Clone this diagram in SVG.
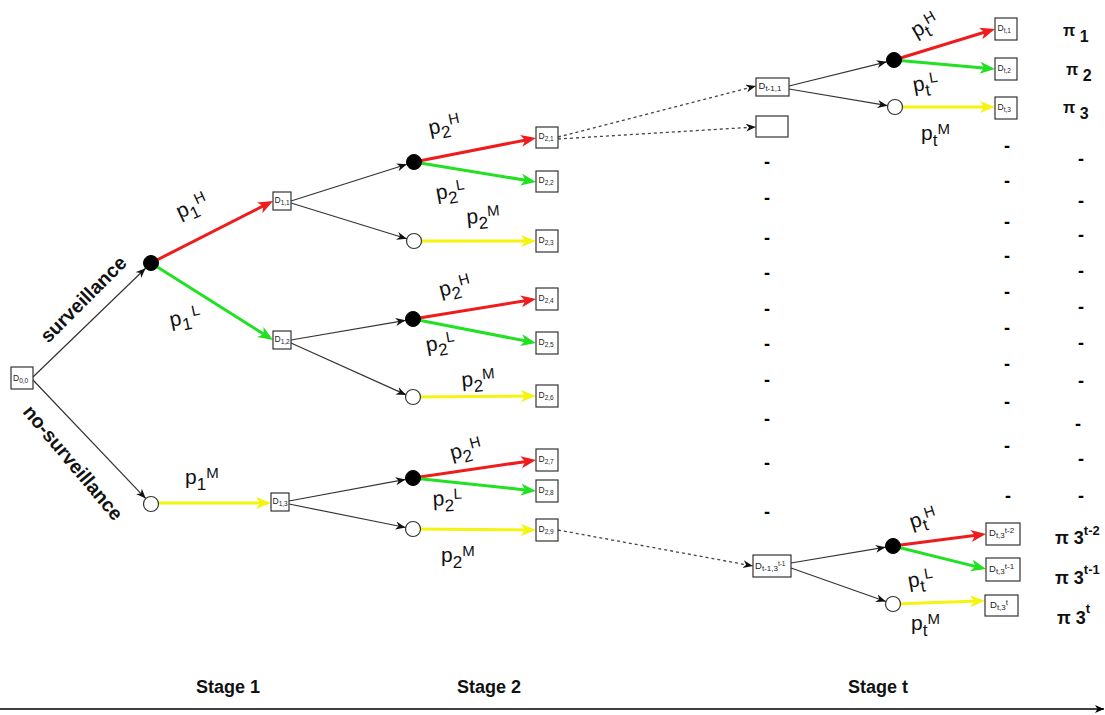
<svg xmlns="http://www.w3.org/2000/svg" width="1105" height="715" viewBox="0 0 1105 715">
  <style>
    .box { fill: #fff; stroke: #333; stroke-width: 1.2; }
    .chance-full { fill: #000; stroke: #000; stroke-width: 1; }
    .chance-open { fill: #fff; stroke: #333; stroke-width: 1.2; }
    .bl { font-family: "Liberation Sans", Arial, sans-serif; font-size: 8.5px; fill: #222; }
    .bs { font-size: 6.5px; }
    .blw { font-family: "Liberation Sans", Arial, sans-serif; font-size: 9.5px; fill: #222; }
    .bsw { font-size: 8px; }
    .pl { font-family: "Liberation Sans", Arial, sans-serif; font-size: 21px; fill: #111; }
    .sb { font-size: 17px; }
    .sp { font-size: 15px; }
    .act { font-family: "Liberation Sans", Arial, sans-serif; font-size: 19.5px; font-weight: bold; fill: #111; }
    .pi { font-family: "Liberation Sans", Arial, sans-serif; font-size: 16px; font-weight: bold; fill: #111; }
    .pi2 { font-family: "Liberation Sans", Arial, sans-serif; font-size: 18px; font-weight: bold; fill: #111; }
    .ps { font-size: 13px; }
    .stage { font-family: "Liberation Sans", Arial, sans-serif; font-size: 18px; font-weight: bold; fill: #111; }
    .dash { font-family: "Liberation Sans", Arial, sans-serif; font-size: 18px; font-weight: bold; fill: #000; text-anchor: middle; }
    .thin { fill: none; stroke: #333; stroke-width: 1.2; marker-end: url(#ah-black); }
    .dashed { fill: none; stroke: #444; stroke-width: 1.3; stroke-dasharray: 3 3; marker-end: url(#ah-black); }
    .red { fill: none; stroke: #ee1c1c; stroke-width: 3; marker-end: url(#ah-red); }
    .green { fill: none; stroke: #22e022; stroke-width: 3; marker-end: url(#ah-green); }
    .yellow { fill: none; stroke: #f4f40f; stroke-width: 3; marker-end: url(#ah-yellow); }
  </style>
  <defs>
    <marker id="ah-black" markerWidth="11" markerHeight="9" refX="10" refY="4" orient="auto" markerUnits="userSpaceOnUse">
      <path d="M0,0 L10,4 L0,8 L3,4 Z" fill="#111"/>
    </marker>
    <marker id="ah-red" markerWidth="16" markerHeight="13" refX="9" refY="6" orient="auto" markerUnits="userSpaceOnUse">
      <path d="M0,0 L15,6 L0,12 L4,6 Z" fill="#ee1c1c"/>
    </marker>
    <marker id="ah-green" markerWidth="16" markerHeight="13" refX="9" refY="6" orient="auto" markerUnits="userSpaceOnUse">
      <path d="M0,0 L15,6 L0,12 L4,6 Z" fill="#22e022"/>
    </marker>
    <marker id="ah-yellow" markerWidth="16" markerHeight="13" refX="9" refY="6" orient="auto" markerUnits="userSpaceOnUse">
      <path d="M0,0 L15,6 L0,12 L4,6 Z" fill="#f4f40f"/>
    </marker>
    <marker id="ah-axis" markerWidth="10" markerHeight="9" refX="9" refY="4" orient="auto" markerUnits="userSpaceOnUse">
      <path d="M0,0 L9,4 L0,8 L2.5,4 Z" fill="#000"/>
    </marker>
  </defs>

  <rect width="1105" height="715" fill="#fff"/>

  <!-- connectors -->
  <g id="connectors">
    <!-- root actions -->
    <line class="thin" x1="33" y1="377" x2="145.6" y2="268.2"/>
    <line class="thin" x1="33" y1="380" x2="145.8" y2="498.6"/>
    <!-- stage 1 outcomes -->
    <line class="red" x1="151" y1="263" x2="267.7" y2="203.7"/>
    <line class="green" x1="151" y1="263" x2="267.9" y2="336.8"/>
    <line class="yellow" x1="151" y1="503" x2="265" y2="503"/>
    <!-- stage 2 actions -->
    <line class="thin" x1="291" y1="201" x2="406.9" y2="164.3"/>
    <line class="thin" x1="291" y1="203" x2="406.8" y2="238.8"/>
    <line class="thin" x1="291" y1="340" x2="405.6" y2="320.3"/>
    <line class="thin" x1="291" y1="343" x2="406.2" y2="394.9"/>
    <line class="thin" x1="289" y1="501" x2="405.6" y2="479.4"/>
    <line class="thin" x1="289" y1="504" x2="405.6" y2="527.5"/>
    <!-- stage 2 outcomes -->
    <line class="red" x1="414" y1="162" x2="530.1" y2="139.2"/>
    <line class="green" x1="414" y1="162" x2="530.1" y2="181"/>
    <line class="yellow" x1="414" y1="241" x2="530" y2="241"/>
    <line class="red" x1="413" y1="319" x2="530.1" y2="300"/>
    <line class="green" x1="413" y1="319" x2="530.1" y2="341.8"/>
    <line class="yellow" x1="413" y1="397" x2="530" y2="396"/>
    <line class="red" x1="413" y1="478" x2="530.1" y2="460.9"/>
    <line class="green" x1="413" y1="478" x2="530" y2="490.4"/>
    <line class="yellow" x1="413" y1="529" x2="530" y2="530"/>
    <!-- elided stages -->
    <line class="dashed" x1="558" y1="137" x2="756" y2="86"/>
    <line class="dashed" x1="558" y1="139" x2="756" y2="127"/>
    <line class="dashed" x1="558" y1="530" x2="753" y2="566"/>
    <!-- stage t actions -->
    <line class="thin" x1="789" y1="86" x2="886.7" y2="61.8"/>
    <line class="thin" x1="789" y1="89" x2="887.6" y2="105.7"/>
    <line class="thin" x1="791" y1="563" x2="885.6" y2="547.2"/>
    <line class="thin" x1="791" y1="568" x2="885.9" y2="601.5"/>
    <!-- stage t outcomes -->
    <line class="red" x1="894" y1="60" x2="989.3" y2="30.8"/>
    <line class="green" x1="894" y1="60" x2="989" y2="68.5"/>
    <line class="yellow" x1="895" y1="107" x2="989" y2="107"/>
    <line class="red" x1="893" y1="546" x2="980" y2="534.8"/>
    <line class="green" x1="893" y1="546" x2="980.2" y2="567.6"/>
    <line class="yellow" x1="893" y1="604" x2="979" y2="601"/>
    <!-- time axis -->
    <line x1="0" y1="709" x2="1104" y2="709" stroke="#000" stroke-width="1.5" marker-end="url(#ah-axis)"/>
  </g>

  <!-- decision nodes -->
  <g id="d00"><rect class="box" x="11" y="367" width="22" height="22"/><text class="bl" x="13" y="381">D<tspan class="bs" dy="2">0,0</tspan></text></g>
  <g id="d11"><rect class="box" x="273" y="192" width="18" height="18"/><text class="bl" x="274.5" y="203">D<tspan class="bs" dy="2">1,1</tspan></text></g>
  <g id="d12"><rect class="box" x="273" y="331" width="18" height="18"/><text class="bl" x="274.5" y="342">D<tspan class="bs" dy="2">1,2</tspan></text></g>
  <g id="d13"><rect class="box" x="271" y="493" width="18" height="18"/><text class="bl" x="272.5" y="504">D<tspan class="bs" dy="2">1,3</tspan></text></g>

  <g id="d21"><rect class="box" x="536" y="127" width="22" height="21"/><text class="bl" x="538.5" y="139">D<tspan class="bs" dy="2">2,1</tspan></text></g>
  <g id="d22"><rect class="box" x="536" y="171" width="22" height="21"/><text class="bl" x="538.5" y="183">D<tspan class="bs" dy="2">2,2</tspan></text></g>
  <g id="d23"><rect class="box" x="536" y="230" width="22" height="22"/><text class="bl" x="538.5" y="243">D<tspan class="bs" dy="2">2,3</tspan></text></g>
  <g id="d24"><rect class="box" x="536" y="288" width="22" height="22"/><text class="bl" x="538.5" y="301">D<tspan class="bs" dy="2">2,4</tspan></text></g>
  <g id="d25"><rect class="box" x="536" y="332" width="22" height="22"/><text class="bl" x="538.5" y="345">D<tspan class="bs" dy="2">2,5</tspan></text></g>
  <g id="d26"><rect class="box" x="536" y="385" width="22" height="22"/><text class="bl" x="538.5" y="398">D<tspan class="bs" dy="2">2,6</tspan></text></g>
  <g id="d27"><rect class="box" x="536" y="449" width="22" height="22"/><text class="bl" x="538.5" y="462">D<tspan class="bs" dy="2">2,7</tspan></text></g>
  <g id="d28"><rect class="box" x="536" y="480" width="22" height="22"/><text class="bl" x="538.5" y="493">D<tspan class="bs" dy="2">2,8</tspan></text></g>
  <g id="d29"><rect class="box" x="536" y="519" width="22" height="22"/><text class="bl" x="538.5" y="532">D<tspan class="bs" dy="2">2,9</tspan></text></g>

  <g id="dt1-1"><rect class="box" x="756" y="78" width="33" height="18"/><text class="blw" x="758.5" y="89">D<tspan class="bsw" dy="2">t-1,1</tspan></text></g>
  <g id="dt1-blank"><rect class="box" x="756" y="116" width="32" height="21"/></g>
  <g id="dt1-last"><rect class="box" x="753" y="555" width="38" height="22"/><text class="blw" x="755" y="569">D<tspan class="bsw" dy="2">t-1,3</tspan><tspan class="bs" dy="-5">t-1</tspan></text></g>

  <g id="dt-1"><rect class="box" x="995" y="18" width="22" height="22"/><text class="bl" x="997.5" y="31">D<tspan class="bs" dy="2">t,1</tspan></text></g>
  <g id="dt-2"><rect class="box" x="995" y="58" width="22" height="22"/><text class="bl" x="997.5" y="71">D<tspan class="bs" dy="2">t,2</tspan></text></g>
  <g id="dt-3"><rect class="box" x="995" y="97" width="22" height="22"/><text class="bl" x="997.5" y="110">D<tspan class="bs" dy="2">t,3</tspan></text></g>
  <g id="dt-n2"><rect class="box" x="986" y="523" width="34" height="22"/><text class="blw" x="989" y="536">D<tspan class="bsw" dy="2">t,3</tspan><tspan class="bsw" dy="-5">t-2</tspan></text></g>
  <g id="dt-n1"><rect class="box" x="986" y="558" width="34" height="23"/><text class="blw" x="989" y="572">D<tspan class="bsw" dy="2">t,3</tspan><tspan class="bsw" dy="-5">t-1</tspan></text></g>
  <g id="dt-n"><rect class="box" x="985" y="595" width="33" height="21"/><text class="blw" x="990" y="608">D<tspan class="bsw" dy="2">t,3</tspan><tspan class="bsw" dy="-5">t</tspan></text></g>

  <!-- chance nodes -->
  <g id="c1-s"><circle class="chance-full" cx="151" cy="263" r="7.5"/></g>
  <g id="c1-n"><circle class="chance-open" cx="151" cy="504" r="7.5"/></g>
  <g id="c2-1s"><circle class="chance-full" cx="414" cy="162" r="7.5"/></g>
  <g id="c2-1n"><circle class="chance-open" cx="414" cy="241" r="7.5"/></g>
  <g id="c2-2s"><circle class="chance-full" cx="413" cy="319" r="7.5"/></g>
  <g id="c2-2n"><circle class="chance-open" cx="413" cy="397" r="7.5"/></g>
  <g id="c2-3s"><circle class="chance-full" cx="413" cy="478" r="7.5"/></g>
  <g id="c2-3n"><circle class="chance-open" cx="413" cy="529" r="7.5"/></g>
  <g id="ct-1s"><circle class="chance-full" cx="894" cy="60" r="7.5"/></g>
  <g id="ct-1n"><circle class="chance-open" cx="895" cy="107" r="7.5"/></g>
  <g id="ct-ls"><circle class="chance-full" cx="893" cy="546" r="7.5"/></g>
  <g id="ct-ln"><circle class="chance-open" cx="893" cy="604" r="7.5"/></g>

  <!-- action labels -->
  <text class="act" text-anchor="middle" transform="translate(88,304) rotate(-45)">surveillance</text>
  <text class="act" text-anchor="middle" transform="translate(68,467) rotate(50)">no-surveillance</text>

  <!-- transition probabilities -->
  <g id="probs">
    <text class="pl" transform="translate(180,219) rotate(-25)">p<tspan class="sb" dy="6">1</tspan><tspan class="sp" dy="-12">H</tspan></text>
    <text class="pl" transform="translate(171,327) rotate(-12)">p<tspan class="sb" dy="6">1</tspan><tspan class="sp" dx="2" dy="-12">L</tspan></text>
    <text class="pl" transform="translate(185,484)">p<tspan class="sb" dy="6">1</tspan><tspan class="sp" dy="-12">M</tspan></text>

    <text class="pl" transform="translate(430,135) rotate(-12)">p<tspan class="sb" dy="6">2</tspan><tspan class="sp" dy="-12">H</tspan></text>
    <text class="pl" transform="translate(437,200) rotate(-10)">p<tspan class="sb" dy="6">2</tspan><tspan class="sp" dy="-12">L</tspan></text>
    <text class="pl" transform="translate(467,224) rotate(-5)">p<tspan class="sb" dy="6">2</tspan><tspan class="sp" dy="-12">M</tspan></text>

    <text class="pl" transform="translate(441,297) rotate(-15)">p<tspan class="sb" dy="6">2</tspan><tspan class="sp" dy="-12">H</tspan></text>
    <text class="pl" transform="translate(427,352) rotate(-10)">p<tspan class="sb" dy="6">2</tspan><tspan class="sp" dy="-12">L</tspan></text>
    <text class="pl" transform="translate(462,387) rotate(-5)">p<tspan class="sb" dy="6">2</tspan><tspan class="sp" dy="-12">M</tspan></text>

    <text class="pl" transform="translate(452,460) rotate(-15)">p<tspan class="sb" dy="6">2</tspan><tspan class="sp" dy="-12">H</tspan></text>
    <text class="pl" transform="translate(433,506) rotate(-3)">p<tspan class="sb" dy="6">2</tspan><tspan class="sp" dy="-12">L</tspan></text>
    <text class="pl" transform="translate(441,562)">p<tspan class="sb" dy="6">2</tspan><tspan class="sp" dy="-12">M</tspan></text>

    <text class="pl" transform="translate(916,38) rotate(-30)">p<tspan class="sb" dy="6">t</tspan><tspan class="sp" dy="-12">H</tspan></text>
    <text class="pl" transform="translate(914,92) rotate(-10)">p<tspan class="sb" dy="6">t</tspan><tspan class="sp" dx="1" dy="-12">L</tspan></text>
    <text class="pl" transform="translate(921,140)">p<tspan class="sb" dy="6">t</tspan><tspan class="sp" dy="-12">M</tspan></text>

    <text class="pl" transform="translate(912,529) rotate(-18)">p<tspan class="sb" dy="6">t</tspan><tspan class="sp" dy="-12">H</tspan></text>
    <text class="pl" transform="translate(909,588) rotate(-10)">p<tspan class="sb" dy="6">t</tspan><tspan class="sp" dx="1" dy="-12">L</tspan></text>
    <text class="pl" transform="translate(911,630)">p<tspan class="sb" dy="6">t</tspan><tspan class="sp" dy="-12">M</tspan></text>
  </g>

  <!-- payoffs -->
  <g id="payoffs">
    <text class="pi" x="1063" y="36">π <tspan dy="6">1</tspan></text>
    <text class="pi" x="1066" y="75">π <tspan dy="6">2</tspan></text>
    <text class="pi" x="1063" y="113">π <tspan dy="6">3</tspan></text>
    <text class="pi2" x="1055" y="544">π 3<tspan class="ps" dy="-9">t-2</tspan></text>
    <text class="pi2" x="1055" y="584">π 3<tspan class="ps" dy="-10">t-1</tspan></text>
    <text class="pi2" x="1057" y="624">π 3<tspan class="ps" dy="-11">t</tspan></text>
  </g>

  <!-- ellipsis marks -->
  <g id="ellipsis">
    <text class="dash" x="767" y="168">-</text>
    <text class="dash" x="767" y="204">-</text>
    <text class="dash" x="767" y="244">-</text>
    <text class="dash" x="767" y="279">-</text>
    <text class="dash" x="767" y="315">-</text>
    <text class="dash" x="767" y="350">-</text>
    <text class="dash" x="767" y="386">-</text>
    <text class="dash" x="767" y="425">-</text>
    <text class="dash" x="767" y="469">-</text>
    <text class="dash" x="767" y="518">-</text>

    <text class="dash" x="1007" y="152">-</text>
    <text class="dash" x="1007" y="187">-</text>
    <text class="dash" x="1007" y="228">-</text>
    <text class="dash" x="1007" y="262">-</text>
    <text class="dash" x="1007" y="298">-</text>
    <text class="dash" x="1007" y="334">-</text>
    <text class="dash" x="1007" y="370">-</text>
    <text class="dash" x="1007" y="408">-</text>
    <text class="dash" x="1007" y="452">-</text>
    <text class="dash" x="1008" y="502">-</text>

    <text class="dash" x="1081" y="165">-</text>
    <text class="dash" x="1081" y="207">-</text>
    <text class="dash" x="1081" y="241">-</text>
    <text class="dash" x="1081" y="277">-</text>
    <text class="dash" x="1081" y="313">-</text>
    <text class="dash" x="1081" y="349">-</text>
    <text class="dash" x="1081" y="387">-</text>
    <text class="dash" x="1078" y="430">-</text>
    <text class="dash" x="1081" y="465">-</text>
    <text class="dash" x="1081" y="502">-</text>
  </g>

  <!-- stage axis labels -->
  <text class="stage" x="196" y="693">Stage 1</text>
  <text class="stage" x="457" y="693">Stage 2</text>
  <text class="stage" x="848" y="693">Stage t</text>
</svg>
